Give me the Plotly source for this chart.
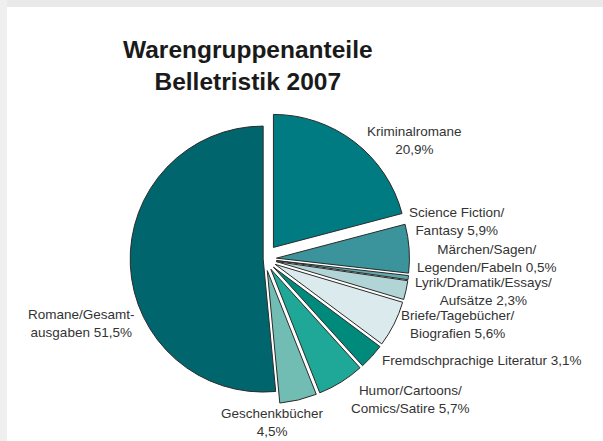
import plotly.graph_objects as go

# ---- data ----
categories = [
    "Kriminalromane",
    "Science Fiction/Fantasy",
    "Märchen/Sagen/Legenden/Fabeln",
    "Lyrik/Dramatik/Essays/Aufsätze",
    "Briefe/Tagebücher/Biografien",
    "Fremdschprachige Literatur",
    "Humor/Cartoons/Comics/Satire",
    "Geschenkbücher",
    "Romane/Gesamtausgaben",
]
shares = [20.9, 5.9, 0.5, 2.3, 5.6, 3.1, 5.7, 4.5, 51.5]
label_lines = [
    ["Kriminalromane", "20,9%"],
    ["Science Fiction/", "Fantasy 5,9%"],
    ["Märchen/Sagen/", "Legenden/Fabeln 0,5%"],
    ["Lyrik/Dramatik/Essays/", "Aufsätze 2,3%"],
    ["Briefe/Tagebücher/", "Biografien 5,6%"],
    ["Fremdschprachige Literatur 3,1%"],
    ["Humor/Cartoons/", "Comics/Satire 5,7%"],
    ["Geschenkbücher", "4,5%"],
    ["Romane/Gesamt-", "ausgaben 51,5%"],
]
title_lines = ["Warengruppenanteile", "Belletristik 2007"]

# ---- style ----
colors = ["#007b81", "#3b939b", "#62a9b0", "#b1d5d7", "#dbeaec",
          "#008a7b", "#1fa797", "#72bdb3", "#00656d"]
pulls = [0.11, 0.09, 0.09, 0.09, 0.09, 0.09, 0.09, 0.09, 0.01]
# label anchor (center x, center y of first line) in pixels
label_pos = [(414, 134), (457, 215), (487, 252), (483, 285), (458, 318),
             (482, 360), (410, 393), (272, 416), (81, 317)]
LINE_H = 13.5

W, H = 603, 441
CX, CY, R = 264.5, 259, 133
S = R * (1 + max(pulls))

fig = go.Figure(go.Pie(
    labels=categories, values=shares, sort=False, direction="clockwise",
    rotation=0, pull=pulls, textinfo="none", hoverinfo="label+percent",
    marker=dict(colors=colors, line=dict(color="#2b2b2b", width=1)),
    domain=dict(x=[(CX - S) / W, (CX + S) / W],
                y=[(H - CY - S) / H, (H - CY + S) / H]),
    showlegend=False,
))

ann = []
for lines, (px, py) in zip(label_lines, label_pos):
    cy = py + (len(lines) - 1) * LINE_H / 2
    ann.append(dict(text="<br>".join(lines), x=px / W, y=1 - cy / H,
                    xref="paper", yref="paper", xanchor="center",
                    yanchor="middle", align="center", showarrow=False,
                    borderpad=0,
                    font=dict(family="Liberation Sans, Arial", size=13.5,
                              color="#333333")))
ann.append(dict(text="<br>".join("<b>%s</b>" % t for t in title_lines),
                x=247.5 / W, y=1 - 66 / H,
                xref="paper", yref="paper", xanchor="center",
                yanchor="middle", align="center", showarrow=False, borderpad=0,
                font=dict(family="Liberation Sans, Arial",
                          size=24.5, color="#1a1a1a")))

shapes = [
    dict(type="rect", xref="paper", yref="paper", x0=0, x1=1,
         y0=1 - 7 / H, y1=1, fillcolor="#e9e9e9", line=dict(width=0), layer="below"),
    dict(type="rect", xref="paper", yref="paper", x0=0, x1=7 / W,
         y0=0, y1=1, fillcolor="#efefef", line=dict(width=0), layer="below"),
]

fig.update_layout(
    width=W, height=H, margin=dict(l=0, r=0, t=0, b=0),
    paper_bgcolor="white", plot_bgcolor="white",
    annotations=ann, shapes=shapes,
)
fig.write_html("out.html", config={"displayModeBar": False},
               post_script="document.body.style.margin='0';document.body.style.overflow='hidden';")
